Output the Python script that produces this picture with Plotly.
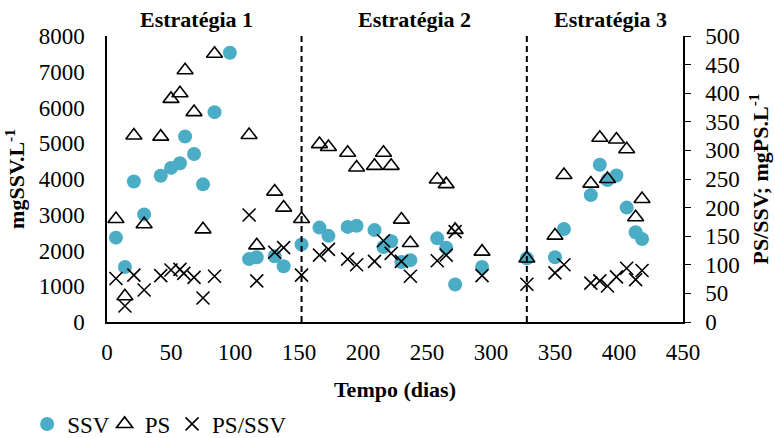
import plotly.graph_objects as go

# ---- data ----
ssv_days = [7, 14, 21, 29, 42, 50, 57, 61, 68, 75, 84, 96, 111, 117, 131, 138, 152,
            166, 173, 188, 195, 209, 216, 222, 230, 237, 258, 265, 272, 293, 328,
            350, 357, 378, 385, 391, 398, 406, 413, 418]
ssv = [2360, 1540, 3930, 3010, 4090, 4310, 4440, 5190, 4700, 3850, 5870, 7530, 1760, 1810, 1840, 1560, 2170,
       2640, 2410, 2660, 2690, 2570, 2100, 2260, 1680, 1730, 2340, 2080, 1050, 1540, 1780,
       1810, 2600, 3550, 4400, 3970, 4100, 3200, 2510, 2320]

ps_days = [7, 14, 21, 29, 42, 50, 57, 61, 68, 75, 84, 111, 117, 131, 138, 152,
           166, 173, 188, 195, 209, 216, 222, 230, 237, 258, 265, 272, 293, 328,
           350, 357, 378, 385, 391, 398, 406, 413, 418]
ps = [180, 45, 326, 171, 324, 390, 400, 440, 367, 162, 469, 327, 134, 228, 200, 180,
      311, 306, 296, 270, 273, 296, 273, 179, 138, 249, 241, 161, 123, 111,
      151, 257, 242, 322, 250, 319, 302, 183, 215]

ratio_days = [7, 14, 21, 29, 42, 50, 57, 60, 68, 75, 84, 111, 117, 131, 138, 152,
              166, 173, 188, 195, 209, 216, 222, 230, 237, 258, 265, 272, 293, 328,
              350, 357, 378, 385, 391, 398, 406, 413, 418]
ratio = [76, 28, 82, 56, 81, 91, 92, 85, 78, 42, 80, 187, 72, 122, 130, 82,
         117, 127, 110, 100, 106, 142, 120, 106, 80, 107, 117, 158, 81, 66,
         86, 100, 68, 72, 63, 79, 94, 74, 90]

phase_bounds = [152, 328]
phase_labels = ["Estratégia 1", "Estratégia 2", "Estratégia 3"]
phase_label_x = [70, 240, 393]

x_ticks = [0, 50, 100, 150, 200, 250, 300, 350, 400, 450]
y_ticks = [0, 1000, 2000, 3000, 4000, 5000, 6000, 7000, 8000]
y2_ticks = [0, 50, 100, 150, 200, 250, 300, 350, 400, 450, 500]

FONT = "Liberation Serif"
tickfont = dict(family=FONT, size=23, color="black")
titlefont = dict(family=FONT, size=22, color="black")

fig = go.Figure()
fig.add_trace(go.Scatter(x=ssv_days, y=ssv, mode="markers", name="SSV", legend="legend",
                         marker=dict(symbol="circle", size=14, color="#4BACC6")))
fig.add_trace(go.Scatter(x=ps_days, y=ps, mode="markers", name="PS", yaxis="y2",
                         legend="legend2",
                         marker=dict(symbol="triangle-up-open", size=14, color="black",
                                     line=dict(width=1.6, color="black"))))
fig.add_trace(go.Scatter(x=ratio_days, y=ratio, mode="markers", name="PS/SSV", yaxis="y2",
                         legend="legend3",
                         marker=dict(symbol="x-thin-open", size=13, color="black",
                                     line=dict(width=1.6, color="black"))))

for b in phase_bounds:
    fig.add_shape(type="line", xref="x", yref="paper", x0=b, x1=b, y0=0, y1=1,
                  line=dict(color="black", width=2, dash="6px,4px"))

for lab, xx in zip(phase_labels, phase_label_x):
    fig.add_annotation(text="<b>%s</b>" % lab, x=xx, xref="x", y=1.058, yref="paper",
                       showarrow=False, yanchor="middle", xanchor="center",
                       font=titlefont)

legend_base = dict(orientation="h", xref="container", yref="container",
                   xanchor="left", y=0.032, yanchor="middle",
                   font=dict(family=FONT, size=23, color="black"),
                   itemwidth=30, bgcolor="rgba(0,0,0,0)")

fig.update_layout(
    template="none",
    width=775, height=438,
    margin=dict(l=107, r=92, t=36, b=116, autoexpand=False),
    paper_bgcolor="white", plot_bgcolor="white",
    font=dict(family=FONT, size=23, color="black"),
    showlegend=True,
    legend=dict(legend_base, x=0.035),
    legend2=dict(legend_base, x=0.135),
    legend3=dict(legend_base, x=0.222),
    xaxis=dict(range=[0, 450], tickvals=x_ticks, showgrid=False, zeroline=False,
               automargin=False, tickfont=tickfont,
               showline=True, linecolor="black", linewidth=1.5, ticks="",
               ticklabelstandoff=9,
               title=dict(text="<b>Tempo (dias)</b>", standoff=19, font=titlefont)),
    yaxis=dict(range=[0, 8000], tickvals=y_ticks, showgrid=False, zeroline=False,
               automargin=False, tickfont=tickfont,
               showline=True, linecolor="black", linewidth=1.5, ticks="",
               ticklabelstandoff=16,
               title=dict(text="<b>mgSSV.L<sup>-1</sup></b>", standoff=8, font=titlefont)),
    yaxis2=dict(range=[0, 500], tickvals=y2_ticks, overlaying="y", side="right",
                automargin=False, tickfont=tickfont,
                showgrid=False, zeroline=False, showline=True, linecolor="black",
                linewidth=1.5, ticks="outside", ticklen=6, tickcolor="black",
                ticklabelstandoff=10,
                title=dict(text="<b>PS/SSV; mgPS.L<sup>-1</sup></b>", standoff=14,
                           font=titlefont)),
)

fig.write_html("out.html", config={"displayModeBar": False},
               post_script="document.body.style.margin='0';document.body.style.padding='0';")
